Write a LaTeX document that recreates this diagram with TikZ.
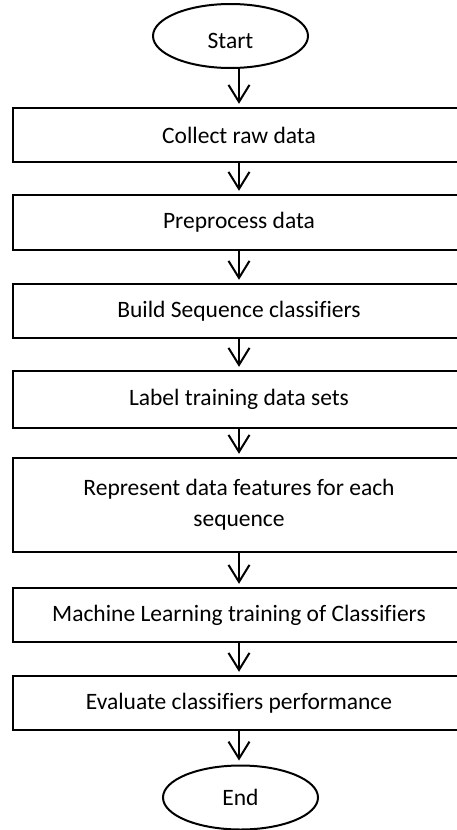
\documentclass[tikz,border=0pt]{standalone}
\usepackage{fontspec}
\setmainfont{Carlito}[Ligatures={NoCommon}]
\usetikzlibrary{shapes.geometric,arrows.meta}

\tikzset{
  flowtext/.style={font=\fontsize{23.5}{31}\selectfont, text=black},
  stepbox/.style={flowtext, rectangle, minimum width=452, inner sep=0pt,
    align=center},
  boxline/.style={draw=black, line width=2pt},
  terminal/.style={flowtext, draw=black, line width=2pt, ellipse,
    minimum width=155, minimum height=64, inner sep=0pt},
  flowarrow/.style={line width=2pt,
    -{Straight Barb[length=17pt,width=21pt,line width=2pt]}, shorten >=4pt}
}

\begin{document}
\begin{tikzpicture}[x=1pt,y=-1pt]
  \useasboundingbox (0,0) rectangle (457,830);
  \clip (0,0) rectangle (457,830);

  % terminals
  \node[terminal] (start) at (230.5,36) {\raisebox{-5pt}[\height][\depth]{Start}};
  \node[terminal] (stop) at (240.5,797.5) {End};

  % process steps
  \node[stepbox, minimum height=54] (b1) at (239,135) {Collect raw data};
  \node[stepbox, minimum height=55] (b2) at (239,222.5) {Preprocess data};
  \node[stepbox, minimum height=54] (b3) at (239,311) {Build Sequence classifiers};
  \node[stepbox, minimum height=57] (b4) at (239,399.5) {Label training data sets};
  \node[stepbox, minimum height=94] (b5) at (239,505)
    {Represent data features for each\\sequence};
  \node[stepbox, minimum height=54] (b6) at (239,615) {Machine Learning training of Classifiers};
  \node[stepbox, minimum height=54] (b7) at (239,703) {Evaluate classifiers performance};

  % box frames, running past the right edge of the page
  \foreach \b in {b1,b2,b3,b4,b5,b6,b7}
    \draw[boxline] (\b.north west) rectangle ([xshift=20pt]\b.south east);

  % connectors
  \draw[flowarrow] (start.south -| b1.north) -- (b1.north);
  \draw[flowarrow] (b1.south) -- (b2.north);
  \draw[flowarrow] (b2.south) -- (b3.north);
  \draw[flowarrow] (b3.south) -- (b4.north);
  \draw[flowarrow] (b4.south) -- (b5.north);
  \draw[flowarrow] (b5.south) -- (b6.north);
  \draw[flowarrow] (b6.south) -- (b7.north);
  \draw[flowarrow] (b7.south) -- (b7.south |- stop.north);
\end{tikzpicture}
\end{document}
